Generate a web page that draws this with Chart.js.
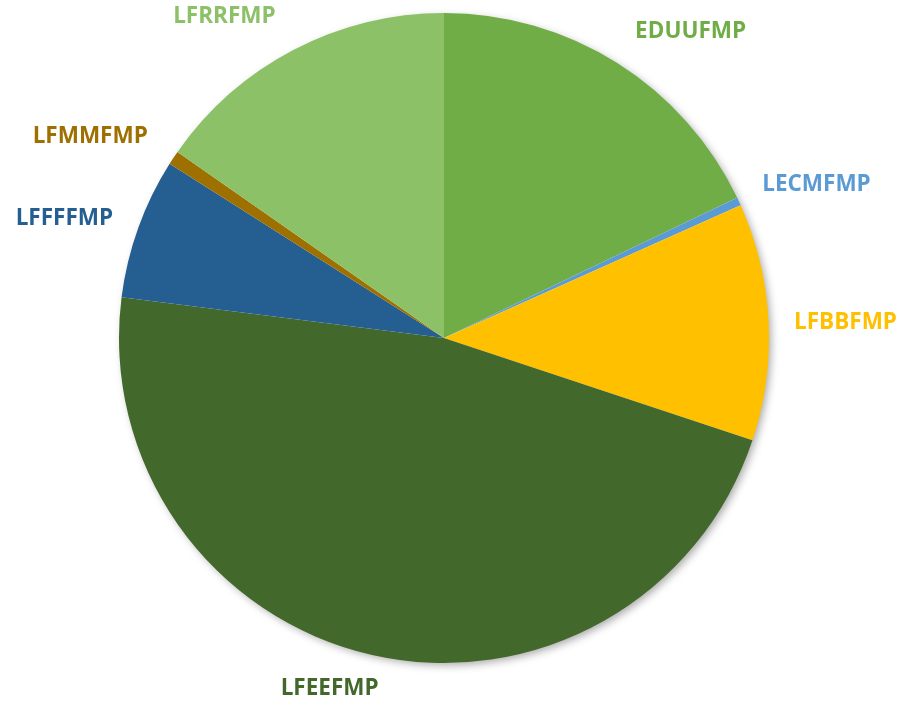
<!DOCTYPE html>
<html>
<head>
<meta charset="utf-8">
<script src="https://cdn.jsdelivr.net/npm/chart.js@4"></script>
<style>
    body { margin: 0; background: #ffffff; }
    #wrap { width: 900px; height: 702px; position: relative; }
</style>
</head>
<body>
<div id="wrap"><canvas id="chart"></canvas></div>
<script>
// Slice names and shares (%), clockwise from 12 o'clock
const categories = ['EDUUFMP', 'LECMFMP', 'LFBBFMP', 'LFEEFMP', 'LFFFFMP', 'LFMMFMP', 'LFRRFMP'];
const shares = [17.9, 0.4, 11.8, 46.9, 7.0, 0.7, 15.3];
const sliceColors = ['#70AD47', '#5B9BD5', '#FFC000', '#43682B', '#255E91', '#9E7000', '#8CC168'];

// label nudges from the default outside spot, px
const labelNudge = [[36, 28], [14, 13], [7, 4], [-27, -35], [-8, 14], [-25, 18], [-37, 29]];

// soft drop shadow under the whole pie, drawn once before the slices
const pieShadow = {
    id: 'pieShadow',
    beforeDatasetsDraw(chart) {
        const arc = chart.getDatasetMeta(0).data[0];
        if (!arc) return;
        const ctx = chart.ctx;
        ctx.save();
        ctx.shadowColor = 'rgba(0, 0, 0, 0.35)';
        ctx.shadowBlur = 9;
        ctx.shadowOffsetX = 3;
        ctx.shadowOffsetY = 3;
        ctx.fillStyle = '#ffffff';
        ctx.beginPath();
        ctx.arc(arc.x, arc.y, arc.outerRadius - 1, 0, Math.PI * 2);
        ctx.fill();
        ctx.restore();
    }
};

// category labels outside the pie, coloured like their slice
const outsideLabels = {
    id: 'outsideLabels',
    afterDatasetsDraw(chart) {
        const ctx = chart.ctx;
        ctx.save();
        ctx.font = 'bold 22.5px "Open Sans", sans-serif';
        ctx.textAlign = 'center';
        ctx.textBaseline = 'middle';
        chart.getDatasetMeta(0).data.forEach((arc, i) => {
            const mid = (arc.startAngle + arc.endAngle) / 2;
            const r = arc.outerRadius + 70;
            const x = arc.x + Math.cos(mid) * r + labelNudge[i][0];
            const y = arc.y + Math.sin(mid) * r + labelNudge[i][1];
            ctx.fillStyle = sliceColors[i];
            ctx.fillText(categories[i], x, y);
        });
        ctx.restore();
    }
};

const chartCanvas = document.getElementById('chart');
new Chart(chartCanvas, {
    type: 'pie',
    data: {
        labels: categories,
        datasets: [{
            data: shares,
            backgroundColor: sliceColors,
            borderWidth: 0,
        }],
    },
    options: {
        responsive: true,
        maintainAspectRatio: false,
        animation: false,
        layout: { padding: { top: 13, bottom: 39, left: 0, right: 12 } },
        plugins: {
            legend: { display: false },
            tooltip: { enabled: false },
        },
    },
    plugins: [pieShadow, outsideLabels],
});
</script>
</body>
</html>
